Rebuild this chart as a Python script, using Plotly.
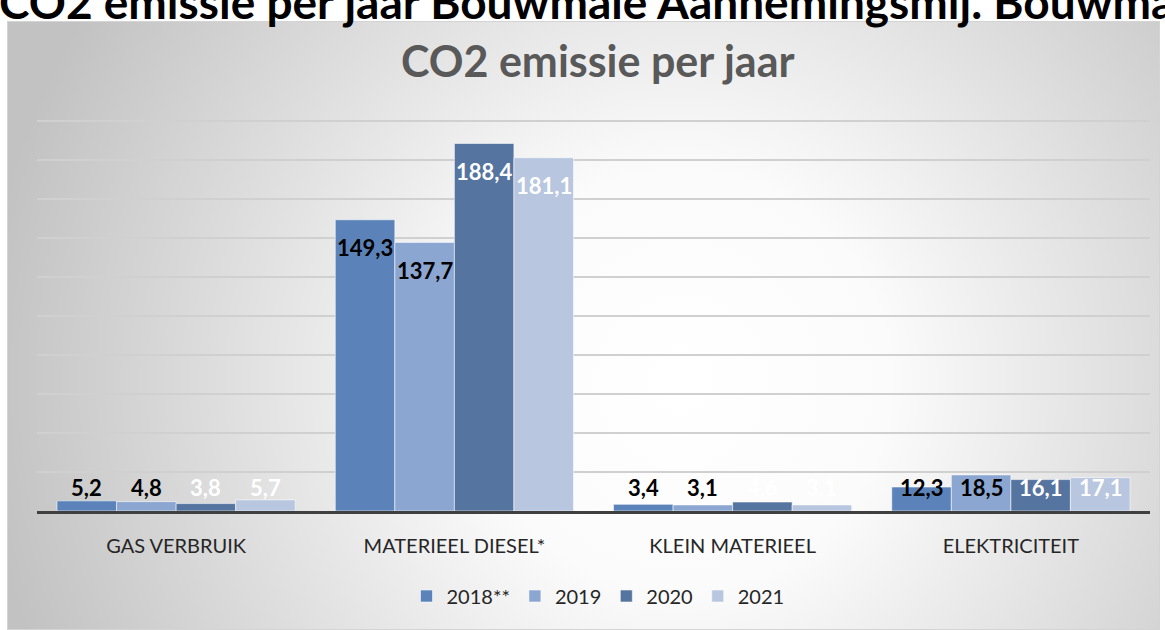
import base64
import plotly.graph_objects as go

categories = ["GAS VERBRUIK", "MATERIEEL DIESEL*", "KLEIN MATERIEEL", "ELEKTRICITEIT"]
series_names = ["2018**", "2019", "2020", "2021"]
values_2018 = [5.2, 149.3, 3.4, 12.3]
values_2019 = [4.8, 137.7, 3.1, 18.5]
values_2020 = [3.8, 188.4, 4.6, 16.1]
values_2021 = [5.7, 181.1, 3.1, 17.1]
series_values = [values_2018, values_2019, values_2020, values_2021]

colors = ["#5b83b9", "#8ba6d0", "#55749f", "#b8c6df"]
label_colors = ["#000000", "#000000", "#ffffff", "#ffffff"]

W, H = 1165, 630
ML, MR, MT, MB = 37, 15, 115, 119
plot_w = W - ML - MR
plot_h = H - MT - MB
YMAX = 203
ppu = plot_h / YMAX
BARGAP = 0.144

fig = go.Figure()
for name, vals, col in zip(series_names, series_values, colors):
    fig.add_trace(go.Bar(
        name=name, x=categories, y=vals,
        marker=dict(color=col, line=dict(color="rgba(255,255,255,0.55)", width=1)),
        hoverinfo="skip",
    ))

# data labels (Excel "inside end" style)
w = (1 - BARGAP) / len(series_names)
annotations = []
for j, vals in enumerate(series_values):
    for i, v in enumerate(vals):
        ypos = max(v - 28 / ppu, 24 / ppu)
        annotations.append(dict(
            x=i + (j - 1.5) * w, y=ypos, xref="x", yref="y",
            text=f"{v:.1f}".replace(".", ","), showarrow=False,
            yanchor="middle", xanchor="center",
            font=dict(family="Lato", size=22, color=label_colors[j], weight="bold"),
        ))

# chart title
annotations.append(dict(
    text="CO2 emissie per jaar", xref="paper", yref="paper",
    x=(598 - ML) / plot_w, y=(H - MB - 61) / plot_h,
    xanchor="center", yanchor="middle", showarrow=False,
    font=dict(family="Lato", size=43, color="#595959", weight="bold"),
))
# cut-off page heading above the chart
annotations.append(dict(
    text="CO2 emissie per jaar Bouwmale Aannemingsmij. Bouwmaatschappij",
    xref="paper", yref="paper",
    x=(-3 - ML) / plot_w, y=(H - MB - 31) / plot_h,
    xanchor="left", yanchor="bottom", showarrow=False,
    font=dict(family="Lato", size=46, color="#000000", weight="bold"),
))

# radial gradient background for the chart area
bx0, by0, bx1, by1 = 7, 21, 1160, 630
bw, bh = bx1 - bx0, by1 - by0
svg = f'''<svg xmlns="http://www.w3.org/2000/svg" width="{bw}" height="{bh}" viewBox="0 0 {bw} {bh}" preserveAspectRatio="none">
<defs><radialGradient id="g" gradientUnits="userSpaceOnUse" cx="{680-bx0}" cy="{380-by0}" r="700">
<stop offset="0" stop-color="#ffffff"/><stop offset="0.3" stop-color="#fbfbfb"/><stop offset="1" stop-color="#c2c2c2"/>
</radialGradient></defs>
<rect x="0.5" y="0.5" width="{bw-1}" height="{bh-1}" fill="url(#g)" stroke="#d4d4d4" stroke-width="1"/>
</svg>'''
src = "data:image/svg+xml;base64," + base64.b64encode(svg.encode()).decode()

fig.update_layout(
    width=W, height=H,
    margin=dict(l=ML, r=MR, t=MT, b=MB),
    paper_bgcolor="#ffffff", plot_bgcolor="rgba(0,0,0,0)",
    barmode="group", bargap=BARGAP, bargroupgap=0,
    showlegend=True,
    legend=dict(orientation="h", x=(598 - ML) / plot_w, y=-(596 - (H - MB)) / plot_h,
                xanchor="center", yanchor="middle",
                font=dict(family="Lato", size=20, color="#262626"),
                bgcolor="rgba(0,0,0,0)", traceorder="normal"),
    annotations=annotations,
    images=[dict(source=src, xref="paper", yref="paper",
                 x=(bx0 - ML) / plot_w, y=(H - MB - by0) / plot_h,
                 sizex=bw / plot_w, sizey=bh / plot_h,
                 xanchor="left", yanchor="top", sizing="stretch", layer="below")],
    xaxis=dict(showgrid=False, showline=True, linecolor="#404040", linewidth=3,
               ticks="", tickfont=dict(family="Lato", size=20, color="#262626"),
               ticklabelstandoff=15, zeroline=False),
    yaxis=dict(range=[0, YMAX], dtick=20, showgrid=True, gridcolor="#d0d0d0", gridwidth=1.5,
               showticklabels=False, zeroline=False, showline=False, ticks=""),
)

fig.write_html("out.html", config={"displayModeBar": False},
               post_script="document.body.style.margin='0';document.body.style.overflow='hidden';")
